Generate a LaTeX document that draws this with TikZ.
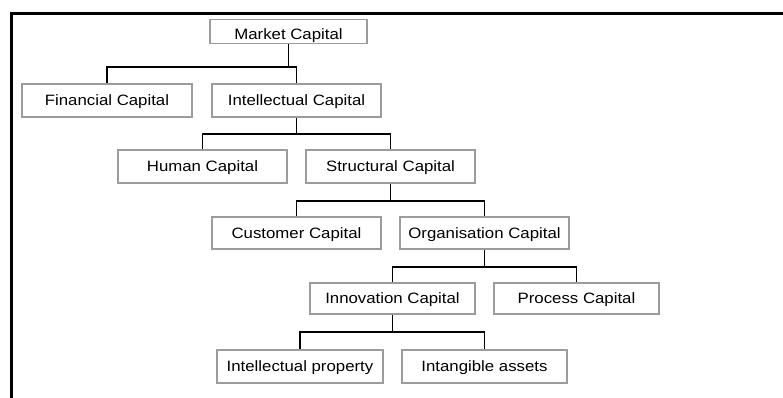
\documentclass[tikz,border=0pt]{standalone}
\usepackage{fontspec}
\setmainfont{Liberation Sans}[FakeStretch=1.12]
\begin{document}
\begin{tikzpicture}[x=1pt,y=-1pt,
  box/.style={draw=boxgray, line width=1.8pt, fill=white, inner sep=0pt,
    minimum height=33pt, text height=10.7pt, text depth=0pt,
    font=\fontsize{15}{17}\selectfont, text=black},
  link/.style={draw=black, line width=1.6pt},
  frameline/.style={draw=black, line width=3.2pt}]
\definecolor{boxgray}{HTML}{9C9C9C}
\useasboundingbox (0,0) rectangle (783,398);
% frame
\coordinate (ftl) at (11.7,13.8);
\coordinate (ftr) at (783,13.8);
\coordinate (fbl) at (11.7,398);
\draw[frameline] (ftr) -- (ftl) -- (fbl);
% nodes
\node[box, minimum width=157pt, minimum height=24pt, text height=15.2pt] (mc) at (288.5,31.5) {Market Capital};
\node[box, minimum width=170pt] (fc) at (107,100.5) {Financial Capital};
\node[box, minimum width=169pt] (ic) at (296.5,100.5) {Intellectual Capital};
\node[box, minimum width=169pt] (hc) at (202.5,166.5) {Human Capital};
\node[box, minimum width=169pt] (sc) at (390.5,166.5) {Structural Capital};
\node[box, minimum width=169pt, minimum height=32pt] (cc) at (296.5,233) {Customer Capital};
\node[box, minimum width=169pt, minimum height=32pt] (oc) at (484.5,233) {Organisation Capital};
\node[box, minimum width=165pt, minimum height=31pt] (nc) at (392.5,298.5) {Innovation Capital};
\node[box, minimum width=165pt, minimum height=31pt] (pc) at (576.5,298.5) {Process Capital};
\node[box, minimum width=166pt] (ip) at (300,366.5) {Intellectual property};
\node[box, minimum width=165pt] (ia) at (484.5,366.5) {Intangible assets};
% bar levels
\coordinate (b1) at (0,67);
\coordinate (b2) at (0,134);
\coordinate (b3) at (0,201);
\coordinate (b4) at (0,267);
\coordinate (b5) at (0,332);
% connectors
\draw[link] (mc.south) -- (mc.south |- b1);
\draw[link] (fc.north) -- (fc.north |- b1) -- (ic.north |- b1) -- (ic.north);
\draw[link] (ic.south) -- (ic.south |- b2);
\draw[link] (hc.north) -- (hc.north |- b2) -- (sc.north |- b2) -- (sc.north);
\draw[link] (sc.south) -- (sc.south |- b3);
\draw[link] (cc.north) -- (cc.north |- b3) -- (oc.north |- b3) -- (oc.north);
\draw[link] (oc.south) -- (oc.south |- b4);
\draw[link] (nc.north) -- (nc.north |- b4) -- (pc.north |- b4) -- (pc.north);
\draw[link] (nc.south) -- (nc.south |- b5);
\draw[link] (ip.north) -- (ip.north |- b5) -- (ia.north |- b5) -- (ia.north);
\end{tikzpicture}
\end{document}
